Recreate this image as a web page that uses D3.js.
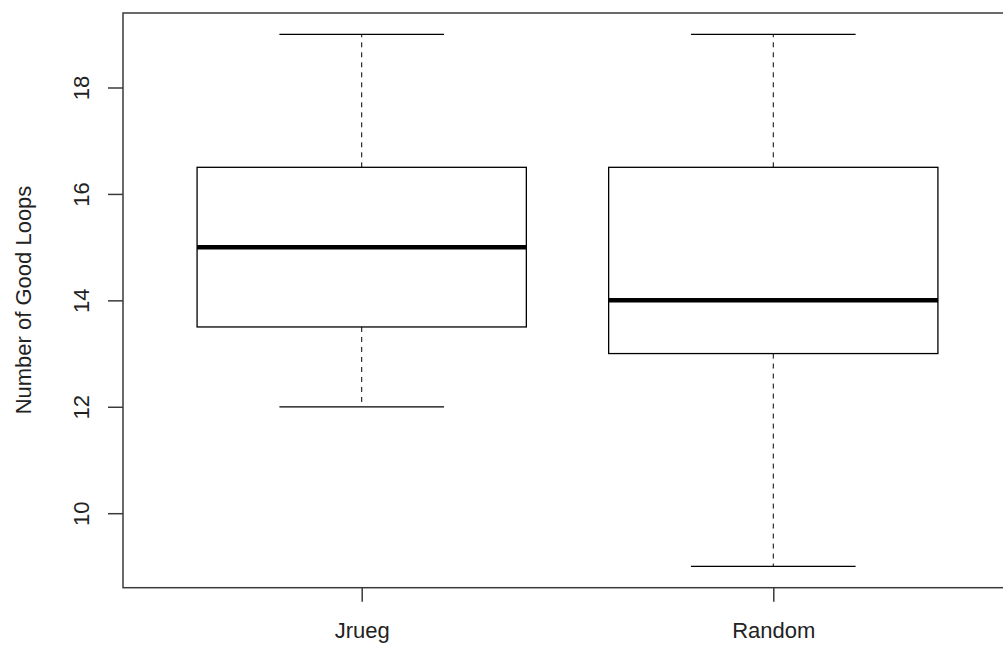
<!DOCTYPE html>
<html>
<head>
<meta charset="utf-8">
<script src="https://cdn.jsdelivr.net/npm/d3@7"></script>
<style>
  body { margin: 0; background: #fff; }
  svg text { font-family: "Liberation Sans", Arial, sans-serif; fill: #222; }
</style>
</head>
<body>
<svg id="chart" width="1003" height="646"></svg>
<script>
const groups = ['Jrueg', 'Random'];
const mins = [12, 9];
const q1s = [13.5, 13];
const medians = [15, 14];
const q3s = [16.5, 16.5];
const maxs = [19, 19];
const yTicks = [10, 12, 14, 16, 18];

const stats = groups.map((g, i) => ({
  name: g, pos: i + 1,
  min: mins[i], q1: q1s[i], med: medians[i], q3: q3s[i], max: maxs[i]
}));

const svg = d3.select('#chart');
const fontSize = 22;

// R style: 4% range extension on both axes
const x = d3.scaleLinear().domain([0.42, 2.58]).range([123, 1012]);
const y = d3.scaleLinear().domain([8.6, 19.4]).range([587.7, 13]);

const boxW = 0.4;   // half-width in data units
const capW = 0.2;

const g = svg.selectAll('.box')
  .data(stats)
  .enter()
  .append('g')
  .attr('class', 'box');

// whiskers (dashed)
g.append('line')
  .attr('x1', d => x(d.pos)).attr('x2', d => x(d.pos))
  .attr('y1', d => y(d.q3)).attr('y2', d => y(d.max))
  .attr('stroke', '#000').attr('stroke-dasharray', '5,5');
g.append('line')
  .attr('x1', d => x(d.pos)).attr('x2', d => x(d.pos))
  .attr('y1', d => y(d.q1)).attr('y2', d => y(d.min))
  .attr('stroke', '#000').attr('stroke-dasharray', '5,5');

// caps
g.append('line')
  .attr('x1', d => x(d.pos - capW)).attr('x2', d => x(d.pos + capW))
  .attr('y1', d => y(d.max)).attr('y2', d => y(d.max))
  .attr('stroke', '#000').attr('stroke-width', 1.3);
g.append('line')
  .attr('x1', d => x(d.pos - capW)).attr('x2', d => x(d.pos + capW))
  .attr('y1', d => y(d.min)).attr('y2', d => y(d.min))
  .attr('stroke', '#000').attr('stroke-width', 1.3);

// box
g.append('rect')
  .attr('x', d => x(d.pos - boxW))
  .attr('y', d => y(d.q3))
  .attr('width', d => x(d.pos + boxW) - x(d.pos - boxW))
  .attr('height', d => y(d.q1) - y(d.q3))
  .attr('fill', 'none').attr('stroke', '#000').attr('stroke-width', 1.3);

// median
g.append('line')
  .attr('x1', d => x(d.pos - boxW)).attr('x2', d => x(d.pos + boxW))
  .attr('y1', d => y(d.med)).attr('y2', d => y(d.med))
  .attr('stroke', '#000').attr('stroke-width', 4.5);

// frame
svg.append('rect')
  .attr('x', 123).attr('y', 13)
  .attr('width', 1012 - 123).attr('height', 587.7 - 13)
  .attr('fill', 'none').attr('stroke', '#3a3a3a').attr('stroke-width', 1.5);

// y axis
const yAxis = svg.append('g')
  .attr('transform', 'translate(123,0)')
  .call(d3.axisLeft(y).tickValues(yTicks).tickSize(15).tickFormat(d3.format('d')));
yAxis.select('.domain').remove();
yAxis.selectAll('.tick line').attr('stroke', '#3a3a3a').attr('stroke-width', 1.5);
yAxis.selectAll('.tick text')
  .attr('x', null).attr('dy', null)
  .attr('transform', 'translate(-34,0) rotate(-90)')
  .attr('text-anchor', 'middle')
  .style('font-size', fontSize + 'px');

// x axis
const xAxis = svg.append('g')
  .attr('transform', 'translate(0,587.7)')
  .call(d3.axisBottom(x).tickValues(stats.map(d => d.pos)).tickSize(14)
    .tickFormat((d, i) => groups[i]));
xAxis.select('.domain').remove();
xAxis.selectAll('.tick line').attr('stroke', '#3a3a3a').attr('stroke-width', 1.5);
xAxis.selectAll('.tick text')
  .attr('y', 50).attr('dy', null)
  .style('font-size', fontSize + 'px');

// y label
svg.append('text')
  .attr('transform', 'translate(31,300) rotate(-90)')
  .attr('text-anchor', 'middle')
  .style('font-size', fontSize + 'px')
  .text('Number of Good Loops');
</script>
</body>
</html>
